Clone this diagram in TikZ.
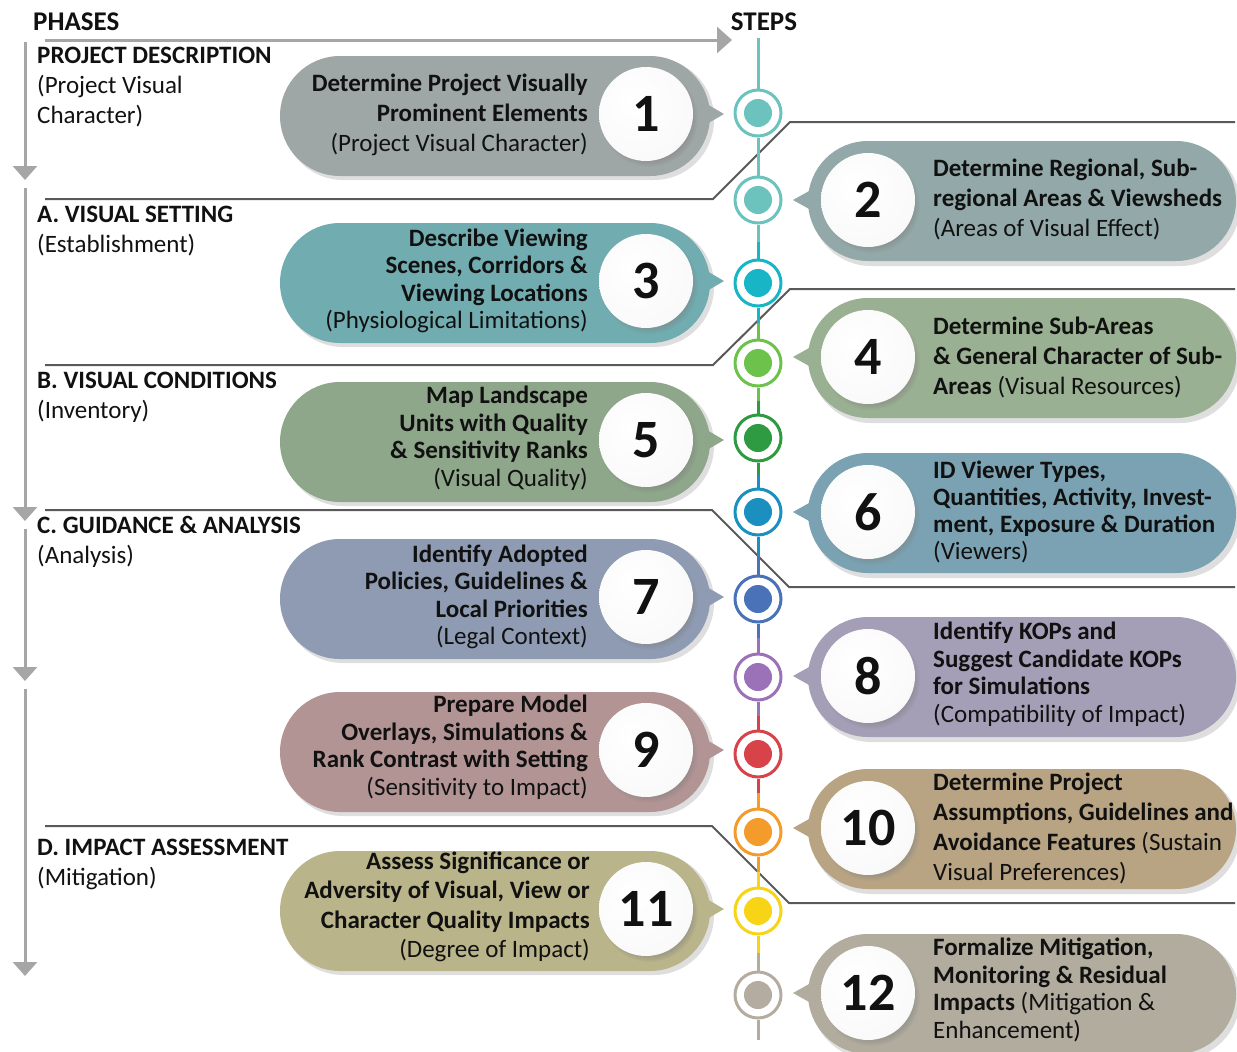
\documentclass[tikz,border=0pt]{standalone}
\usepackage{fontspec}
\setmainfont{Carlito}
\usetikzlibrary{arrows.meta,calc,shadows}
\definecolor{pc1}{HTML}{9EA7A6}
\definecolor{pc2}{HTML}{93A9A9}
\definecolor{pc3}{HTML}{70ACB0}
\definecolor{pc4}{HTML}{9AB092}
\definecolor{pc5}{HTML}{8EA68A}
\definecolor{pc6}{HTML}{7AA2B2}
\definecolor{pc7}{HTML}{8E9BB3}
\definecolor{pc8}{HTML}{A49EB6}
\definecolor{pc9}{HTML}{B39495}
\definecolor{pc10}{HTML}{B8A483}
\definecolor{pc11}{HTML}{B9B489}
\definecolor{pc12}{HTML}{B1AC9E}
\definecolor{sc1}{HTML}{6CC3BE}
\definecolor{sc2}{HTML}{6CC3BE}
\definecolor{sc3}{HTML}{17B5C6}
\definecolor{sc4}{HTML}{6CC24A}
\definecolor{sc5}{HTML}{2E9A42}
\definecolor{sc6}{HTML}{1B8FC0}
\definecolor{sc7}{HTML}{4A72B9}
\definecolor{sc8}{HTML}{9B72B8}
\definecolor{sc9}{HTML}{D8434A}
\definecolor{sc10}{HTML}{F39C2C}
\definecolor{sc11}{HTML}{F8D417}
\definecolor{sc12}{HTML}{B4ACA0}
\definecolor{phasegray}{HTML}{A6A6A6}
\definecolor{divgray}{HTML}{595959}
\definecolor{txt}{HTML}{111111}
\pgfdeclareradialshading{numshade}{\pgfpoint{-8bp}{8bp}}{color(0bp)=(white); color(28bp)=(white!96!gray); color(42bp)=(white!86!gray); color(58bp)=(white!62!gray)}
\newcommand\lpill[2]{%
  \fill[black,opacity=.13,rounded corners=60pt] (283,{#1-56}) rectangle (714,{#1+66});
  \fill[#2,rounded corners=60pt] (280,{#1-58}) rectangle (710,{#1+62});
  \fill[#2] (700,{#1-14}) -- (724,#1) -- (700,{#1+14}) -- cycle;
}
\newcommand\rpill[2]{%
  \fill[black,opacity=.13,rounded corners=60pt] (811,{#1-56}) rectangle (1240,{#1+66});
  \fill[#2,rounded corners=60pt] (808,{#1-59}) rectangle (1236,{#1+61});
  \fill[#2] (818,{#1-14}) -- (793,#1) -- (818,{#1+14}) -- cycle;
}
\begin{document}
\begin{tikzpicture}[x=1pt,y=-1pt,
  phasearrow/.style={draw=phasegray,line width=3pt,-{Triangle[width=24pt,length=14pt]}},
  divider/.style={draw=divgray,line width=2pt},
  seg/.style={line width=3pt},
  stepc/.style={circle,minimum size=46pt,inner sep=0pt,line width=3pt,draw=#1,fill=white,
    path picture={\fill[#1] (path picture bounding box.center) circle (14pt);}},
  numc/.style={circle,minimum size=94pt,inner sep=0pt,shading=numshade,
    circular drop shadow={shadow xshift=3pt,shadow yshift=-4pt,shadow scale=1.04,opacity=.5},
    font=\bfseries\fontsize{54}{54}\selectfont,text=txt},
  ltext/.style={anchor=east,align=right,inner sep=0pt,text=txt,font=\fontsize{25}{#1}\selectfont},
  rtext/.style={anchor=west,align=left,inner sep=0pt,text=txt,font=\fontsize{25}{#1}\selectfont},
  phase/.style={anchor=west,align=left,inner sep=0pt,text=txt,font=\fontsize{25}{30}\selectfont},
  head/.style={inner sep=0pt,text=txt,font=\bfseries\fontsize{27}{27}\selectfont}]
\useasboundingbox (0,0) rectangle (1237,1052);

% headers
\node[head,anchor=west] (phases) at (33,22) {PHASES};
\node[head] (steps) at (764,22) {STEPS};

% phase arrows
\coordinate (ha) at (45,40);
\coordinate (hb) at (732,40);
\draw[phasearrow,-{Triangle[width=26pt,length=15pt]}] (ha) -- (hb);
\coordinate (v1a) at (25,42);  \coordinate (v1b) at (25,180);
\coordinate (v2a) at (25,188); \coordinate (v2b) at (25,521);
\coordinate (v3a) at (25,529); \coordinate (v3b) at (25,681);
\coordinate (v4a) at (25,689); \coordinate (v4b) at (25,976);
\draw[phasearrow] (v1a) -- (v1b);
\draw[phasearrow] (v2a) -- (v2b);
\draw[phasearrow] (v3a) -- (v3b);
\draw[phasearrow] (v4a) -- (v4b);

% dividers
\draw[divider] (45,199) -- (713,199) -- (790,122) -- (1235,122);
\draw[divider] (45,365) -- (713,365) -- (790,289) -- (1235,289);
\draw[divider] (45,510) -- (712,510) -- (789,587) -- (1235,587);
\draw[divider] (45,826) -- (712,826) -- (789,903) -- (1235,903);

% phase labels
\node[phase] (ph0) at (37,87) {\textbf{PROJECT DESCRIPTION}\\(Project Visual\\Character)};
\node[phase] (ph1) at (37,231) {\textbf{A. VISUAL SETTING}\\(Establishment)};
\node[phase] (ph2) at (37,397) {\textbf{B. VISUAL CONDITIONS}\\(Inventory)};
\node[phase] (ph3) at (37,542) {\textbf{C. GUIDANCE \& ANALYSIS}\\(Analysis)};
\node[phase] (ph4) at (37,864) {\textbf{D. IMPACT ASSESSMENT}\\(Mitigation)};

% pills
\lpill{114}{pc1}
\lpill{281}{pc3}
\lpill{440}{pc5}
\lpill{597}{pc7}
\lpill{750}{pc9}
\lpill{909}{pc11}
\rpill{200}{pc2}
\rpill{357}{pc4}
\rpill{512}{pc6}
\rpill{676}{pc8}
\rpill{828}{pc10}
\rpill{993}{pc12}

% number circles
\node[numc] (n1) at (646,114) {1};
\node[numc] (n3) at (646,281) {3};
\node[numc] (n5) at (646,440) {5};
\node[numc] (n7) at (646,597) {7};
\node[numc] (n9) at (646,750) {9};
\node[numc] (n11) at (646,909) {11};
\node[numc] (n2) at (868,200) {2};
\node[numc] (n4) at (868,357) {4};
\node[numc] (n6) at (868,512) {6};
\node[numc] (n8) at (868,676) {8};
\node[numc] (n10) at (868,828) {10};
\node[numc] (n12) at (868,993) {12};

% pill texts
\node[ltext=30] (t1) at (588,115) {\textbf{Determine Project Visually}\\\textbf{Prominent Elements}\\(Project Visual Character)};
\node[ltext=27.5] (t3) at (588,281) {\textbf{Describe Viewing}\\\textbf{Scenes, Corridors \&}\\\textbf{Viewing Locations}\\(Physiological Limitations)};
\node[ltext=27.5] (t5) at (588,438) {\textbf{Map Landscape}\\\textbf{Units with Quality}\\\textbf{\& Sensitivity Ranks}\\(Visual Quality)};
\node[ltext=27.5] (t7) at (588,597) {\textbf{Identify Adopted}\\\textbf{Policies, Guidelines \&}\\\textbf{Local Priorities}\\(Legal Context)};
\node[ltext=27.5] (t9) at (588,747) {\textbf{Prepare Model}\\\textbf{Overlays, Simulations \&}\\\textbf{Rank Contrast with Setting}\\(Sensitivity to Impact)};
\node[ltext=29.5] (t11) at (590,907) {\textbf{Assess Significance or}\\\textbf{Adversity of Visual, View or}\\\textbf{Character Quality Impacts}\\(Degree of Impact)};
\node[rtext=30] (t2) at (933,199) {\textbf{Determine Regional, Sub-}\\\textbf{regional Areas \& Viewsheds}\\(Areas of Visual Effect)};
\node[rtext=30] (t4) at (933,357) {\textbf{Determine Sub-Areas}\\\textbf{\& General Character of Sub-}\\\textbf{Areas} (Visual Resources)};
\node[rtext=27] (t6) at (933,512) {\textbf{ID Viewer Types,}\\\textbf{Quantities, Activity, Invest-}\\\textbf{ment, Exposure \& Duration}\\(Viewers)};
\node[rtext=27.5] (t8) at (933,674) {\textbf{Identify KOPs and}\\\textbf{Suggest Candidate KOPs}\\\textbf{for Simulations}\\(Compatibility of Impact)};
\node[rtext=30] (t10) at (933,828) {\textbf{Determine Project}\\\textbf{Assumptions, Guidelines and}\\\textbf{Avoidance Features} (Sustain\\Visual Preferences)};
\node[rtext=27.5] (t12) at (933,990) {\textbf{Formalize Mitigation,}\\\textbf{Monitoring \& Residual}\\\textbf{Impacts} (Mitigation \&\\Enhancement)};

% step circles
\node[stepc=sc1] (s1) at (758,113) {};
\node[stepc=sc2] (s2) at (758,200) {};
\node[stepc=sc3] (s3) at (758,283) {};
\node[stepc=sc4] (s4) at (758,363) {};
\node[stepc=sc5] (s5) at (758,438) {};
\node[stepc=sc6] (s6) at (758,512) {};
\node[stepc=sc7] (s7) at (758,599) {};
\node[stepc=sc8] (s8) at (758,677) {};
\node[stepc=sc9] (s9) at (758,754) {};
\node[stepc=sc10] (s10) at (758,832) {};
\node[stepc=sc11] (s11) at (758,911) {};
\node[stepc=sc12] (s12) at (758,995) {};
\coordinate (stop) at (758,38);
\coordinate (sbot) at (758,1040);

% step line
\draw[seg,sc1] (stop) -- (s1);
\foreach \a/\b in {1/2,2/3,3/4,4/5,5/6,6/7,7/8,8/9,9/10,10/11,11/12}{
  \draw[seg,sc\a] (s\a) -- ($(s\a)!0.5!(s\b)$);
  \draw[seg,sc\b] ($(s\a)!0.5!(s\b)$) -- (s\b);
}
\draw[seg,sc12] (s12) -- (sbot);
\end{tikzpicture}
\end{document}
